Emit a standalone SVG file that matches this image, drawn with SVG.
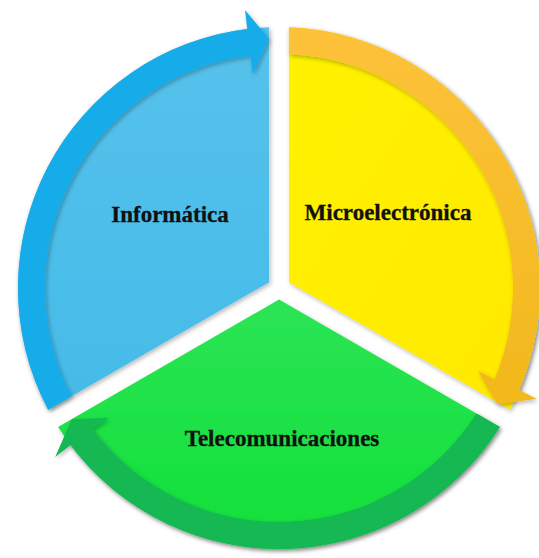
<svg xmlns="http://www.w3.org/2000/svg" width="539" height="558" viewBox="0 0 539 558">
  <defs>
    <filter id="soft" x="-10%" y="-10%" width="120%" height="120%">
      <feDropShadow dx="1.5" dy="2" stdDeviation="2" flood-color="#000" flood-opacity="0.28"/>
    </filter>
    <linearGradient id="gBlue" x1="0" y1="0" x2="0" y2="1">
      <stop offset="0" stop-color="#56C2EC"/>
      <stop offset="1" stop-color="#45BBE8"/>
    </linearGradient>
    <linearGradient id="gYellow" x1="0" y1="0" x2="1" y2="1">
      <stop offset="0" stop-color="#FFF200"/>
      <stop offset="1" stop-color="#FFE900"/>
    </linearGradient>
    <linearGradient id="gGreen" x1="0" y1="0" x2="0" y2="1">
      <stop offset="0" stop-color="#2CE455"/>
      <stop offset="1" stop-color="#10E038"/>
    </linearGradient>
    <linearGradient id="gOrange" x1="0" y1="0" x2="0" y2="1">
      <stop offset="0" stop-color="#FDC23A"/>
      <stop offset="1" stop-color="#F2B81C"/>
    </linearGradient>
  </defs>
  <style>
    .seg { filter: url(#soft); }
    .arrow { filter: url(#soft); }
    .label { font-family: "Liberation Serif", "Times New Roman", serif; font-weight: bold; font-size: 23px; fill: #111; stroke: #111; stroke-width: 0.3; text-anchor: middle; }
  </style>

  <!-- segments of the cycle, centre (279,288), outer radius 261 -->
  <g id="informatica">
    <path class="seg" fill="url(#gBlue)" d="M269.04,282.25 L269.04,27.19 A261,261 0 0 0 48.16,409.78 Z"/>
    <text class="label" x="170" y="222">Informática</text>
  </g>
  <g id="microelectronica">
    <path class="seg" fill="url(#gYellow)" d="M288.96,282.25 L288.96,27.19 A261,261 0 0 1 509.84,409.78 Z"/>
    <text class="label" x="388" y="220">Microelectrónica</text>
  </g>
  <g id="telecomunicaciones">
    <path class="seg" fill="url(#gGreen)" d="M279,299.5 L499.88,427.03 A261,261 0 0 1 58.12,427.03 Z"/>
    <text class="label" x="282" y="446">Telecomunicaciones</text>
  </g>

  <!-- curved arrows running clockwise round the rim -->
  <g id="connectors">
    <path class="arrow" fill="#16ACEA" d="M48.16,409.78 A261,261 0 0 1 247.19,28.94 L245.00,10.08 L269.04,38.70 L252.68,74.61 L250.48,55.74 A234,234 0 0 0 71.56,396.27 Z"/>
    <path class="arrow" fill="url(#gOrange)" d="M288.96,27.19 A261,261 0 0 1 519.25,389.98 L536.82,399.01 L497.14,404.03 L477.83,370.40 L494.40,379.43 A234,234 0 0 0 288.96,54.21 Z"/>
    <path class="arrow" fill="#12B852" d="M499.88,427.03 A261,261 0 0 1 70.56,445.08 L55.18,456.91 L71.82,419.28 L108.49,417.99 L92.12,428.83 A234,234 0 0 0 476.48,413.52 Z"/>
  </g>
</svg>
